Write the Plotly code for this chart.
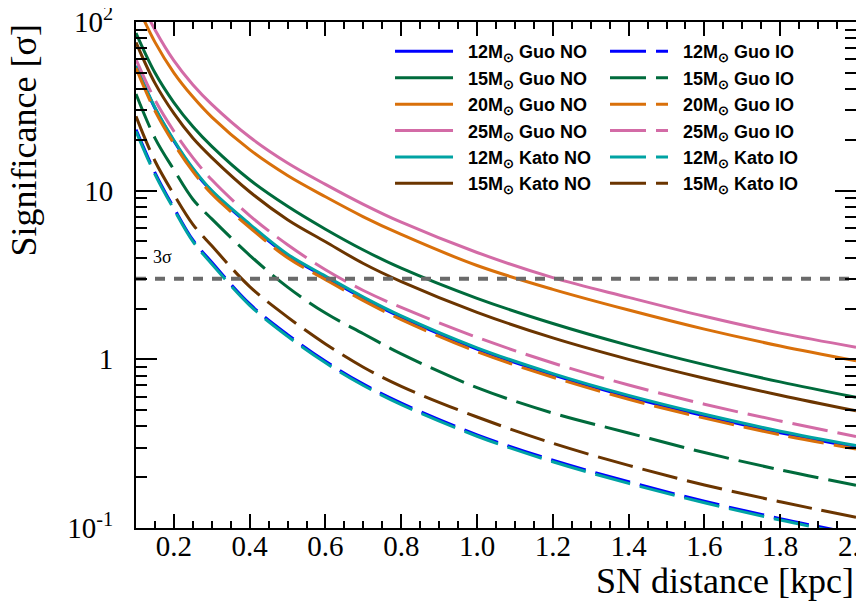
import plotly.graph_objects as go
import numpy as np

# SN distance [kpc]
distance = [0.1, 0.15, 0.2, 0.25, 0.3, 0.4, 0.5, 0.6, 0.7, 0.8, 1.0, 1.2, 1.4, 1.6, 1.8, 2.0]

# Significance [sigma]
guo12_no = [54.5, 30.8, 19.7, 13.4, 9.9, 6.25, 4.14, 3.07, 2.30, 1.78, 1.15, 0.81, 0.600, 0.462, 0.367, 0.301]
guo15_no = [86, 50, 33.3, 24.0, 18.3, 11.6, 8.08, 5.91, 4.45, 3.47, 2.30, 1.63, 1.21, 0.93, 0.735, 0.595]
guo20_no = [130, 76, 50, 36, 27.3, 17.5, 12.3, 9.2, 7.0, 5.5, 3.6, 2.6, 1.96, 1.51, 1.2, 0.98]
guo25_no = [150, 90, 59, 42.5, 32.5, 20.8, 14.6, 10.9, 8.3, 6.5, 4.3, 3.05, 2.33, 1.80, 1.43, 1.18]
kato12_no = [55.1, 31.1, 19.9, 13.6, 10.0, 6.34, 4.20, 3.12, 2.34, 1.81, 1.17, 0.823, 0.611, 0.472, 0.375, 0.308]
kato15_no = [75.7, 43.4, 28.7, 20.5, 15.7, 9.85, 6.73, 4.98, 3.70, 2.89, 1.90, 1.34, 1.0, 0.773, 0.613, 0.495]

guo12_io = [23, 12.8, 7.9, 5.1, 3.76, 2.13, 1.40, 0.973, 0.713, 0.55, 0.357, 0.252, 0.188, 0.144, 0.1137, 0.092]
guo15_io = [37.4, 20.5, 13.3, 8.9, 6.8, 4.14, 2.68, 1.88, 1.418, 1.078, 0.68, 0.48, 0.366, 0.28, 0.221, 0.179]
guo20_io = [53.3, 29.7, 19.0, 13.0, 9.55, 6.05, 4.0, 2.97, 2.23, 1.72, 1.11, 0.783, 0.58, 0.448, 0.357, 0.294]
guo25_io = [60, 34.5, 22.5, 15.7, 11.6, 7.12, 4.78, 3.40, 2.56, 2.03, 1.35, 0.951, 0.704, 0.542, 0.431, 0.349]
kato12_io = [22.5, 12.5, 7.75, 5.0, 3.68, 2.09, 1.37, 0.953, 0.70, 0.539, 0.35, 0.247, 0.184, 0.141, 0.1114, 0.090]
kato15_io = [27.6, 15.0, 9.5, 6.32, 4.71, 2.70, 1.78, 1.234, 0.898, 0.691, 0.455, 0.318, 0.235, 0.18, 0.143, 0.1157]

threshold = 3.0

names = ["12M<sub>⊙</sub> Guo", "15M<sub>⊙</sub> Guo", "20M<sub>⊙</sub> Guo",
         "25M<sub>⊙</sub> Guo", "12M<sub>⊙</sub> Kato", "15M<sub>⊙</sub> Kato"]
no_series = [guo12_no, guo15_no, guo20_no, guo25_no, kato12_no, kato15_no]
io_series = [guo12_io, guo15_io, guo20_io, guo25_io, kato12_io, kato15_io]
colors = ["#0000ff", "#006b3c", "#d9700a", "#d36ba6", "#00a3a3", "#6b3500"]

fig = go.Figure()

pad = "\u00a0\u00a0"
for i, (nm, ys, col) in enumerate(zip(names, no_series, colors)):
    fig.add_trace(go.Scatter(
        x=distance, y=ys, mode="lines", name=pad + nm + " NO", legend="legend",
        line=dict(color=col, width=3, shape="spline")))
for i, (nm, ys, col) in enumerate(zip(names, io_series, colors)):
    fig.add_trace(go.Scatter(
        x=distance, y=ys, mode="lines", name=pad + nm + " IO", legend="legend2",
        line=dict(color=col, width=3, shape="spline", dash="36px,10px")))

fig.add_trace(go.Scatter(
    x=[distance[0], distance[-1]], y=[threshold, threshold], mode="lines",
    line=dict(color="#6a6a6a", width=4, dash="10px,9px"), showlegend=False,
    hoverinfo="skip"))

serif = "Liberation Serif, Times New Roman, serif"
legfont = dict(family="Liberation Sans, Arial, sans-serif", size=18,
               color="black", weight="bold")

fig.update_layout(
    width=864, height=605,
    margin=dict(l=128, r=16, t=14, b=85),
    paper_bgcolor="white", plot_bgcolor="white",
    showlegend=True,
    legend=dict(
        orientation="v", x=0.3528, xanchor="left", y=0.978, yanchor="top",
        itemwidth=58, font=legfont, bgcolor="rgba(0,0,0,0)", borderwidth=0),
    legend2=dict(
        orientation="v", x=0.6514, xanchor="left", y=0.978, yanchor="top",
        itemwidth=58, font=legfont, bgcolor="rgba(0,0,0,0)", borderwidth=0),
    xaxis=dict(
        range=[0.1, 2.0], showgrid=False, zeroline=False, automargin=False,
        showline=True, linecolor="black", linewidth=2, mirror="allticks",
        ticks="inside", ticklen=14, tickwidth=1.5, tickcolor="black",
        tickvals=[0.2, 0.4, 0.6, 0.8, 1.0, 1.2, 1.4, 1.6, 1.8, 2.0],
        ticktext=["0.2", "0.4", "0.6", "0.8", "1.0", "1.2", "1.4", "1.6", "1.8", "2.0"],
        tickfont=dict(family=serif, size=29, color="black"),
        ticklabeloverflow="allow", ticklabelstandoff=-9,
        minor=dict(ticks="inside", ticklen=7, tickwidth=1.5, tickcolor="black",
                   dtick=0.05, tick0=0.1, showgrid=False),
    ),
    yaxis=dict(
        type="log", range=[-1, 2], showgrid=False, zeroline=False, automargin=False,
        showline=True, linecolor="black", linewidth=2, mirror="allticks",
        ticks="inside", ticklen=21, tickwidth=1.5, tickcolor="black",
        tickvals=[0.1, 1, 10, 100],
        ticktext=["10<sup>-1</sup>", "1", "10", "10<sup>2</sup>"],
        tickfont=dict(family=serif, size=29, color="black"),
        ticklabeloverflow="allow", ticklabelstandoff=15,
        minor=dict(ticks="inside", ticklen=11, tickwidth=1.5, tickcolor="black",
                   tickvals=[0.2, 0.3, 0.4, 0.5, 0.6, 0.7, 0.8, 0.9,
                             2, 3, 4, 5, 6, 7, 8, 9,
                             20, 30, 40, 50, 60, 70, 80, 90],
                   showgrid=False),
    ),
    annotations=[
        dict(text="SN distance [kpc]", xref="paper", yref="paper", x=1.0, y=-0.104,
             xanchor="right", yanchor="middle", showarrow=False,
             font=dict(family=serif, size=36, color="black")),
        dict(text="Significance [σ]", xref="paper", yref="paper", x=-0.155, y=1.0,
             xanchor="center", yanchor="top", showarrow=False, textangle=-90,
             font=dict(family=serif, size=36, color="black")),
        dict(text="3σ", xref="x", yref="y", x=0.17, y=np.log10(threshold),
             yshift=22, xanchor="center", yanchor="middle", showarrow=False,
             font=dict(family=serif, size=18, color="black")),
    ],
)

fig.write_html("out.html")
